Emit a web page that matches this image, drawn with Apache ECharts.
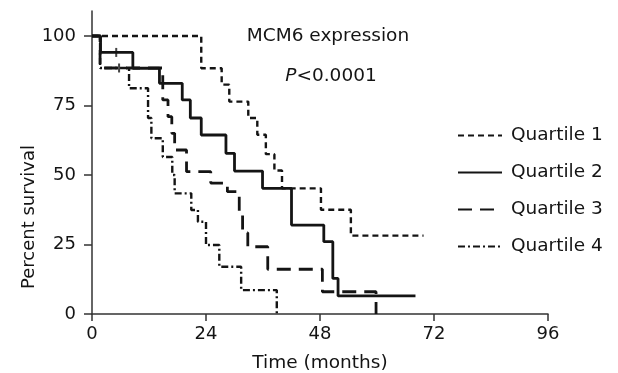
<!DOCTYPE html>
<html>
<head>
<meta charset="utf-8">
<script src="https://cdn.jsdelivr.net/npm/echarts@6/dist/echarts.min.js"></script>
<style>html,body{margin:0;padding:0;background:#fff;}#c{width:618px;height:373px;}</style>
</head>
<body>
<div id="c"></div>
<script>
// Kaplan-Meier steps (time in months, percent survival)
var q1Time = [0, 23.0, 27.3, 28.9, 32.9, 34.8, 36.6, 38.4, 40.0, 48.2, 54.5, 69.8];
var q1Surv = [100, 88.4, 82.5, 76.4, 70.5, 64.5, 57.5, 51.6, 45.2, 37.5, 28.2, 28.2];

var q2Time = [0, 1.8, 8.6, 14.2, 19.0, 20.7, 23.0, 28.2, 30.0, 35.9, 42.0, 48.8, 50.7, 51.8, 68.1];
var q2Surv = [100, 94.1, 88.4, 83.0, 77.0, 70.5, 64.4, 57.8, 51.4, 45.2, 32.0, 26.0, 12.8, 6.5, 6.5];

var q3Time = [0, 1.7, 14.9, 16.0, 16.8, 17.4, 19.9, 25.0, 28.5, 31.0, 31.7, 32.8, 37.0, 48.5, 59.8];
var q3Surv = [100, 88.5, 77.0, 71.0, 65.0, 59.0, 51.2, 47.1, 44.0, 36.5, 29.2, 24.2, 16.1, 8.0, 0];

var q4Time = [0, 1.7, 7.8, 11.8, 12.5, 14.9, 16.9, 17.4, 20.9, 22.3, 24.0, 26.8, 31.4, 38.9];
var q4Surv = [100, 88.5, 81.2, 70.5, 63.2, 56.5, 50.0, 43.4, 37.4, 33.2, 24.8, 17.0, 8.6, 0];

var censorTime = [5.1, 5.7];
var censorSurv = [94.1, 88.5];

var seriesNames = ['Quartile 1', 'Quartile 2', 'Quartile 3', 'Quartile 4'];
var xTicks = [0, 24, 48, 72, 96];
var yTicks = [0, 25, 50, 75, 100];

function pairs(t, v) { return t.map(function (x, i) { return [x, v[i]]; }); }

var FONT = 'DejaVu Sans';
var INK = '#141414';

var chart = echarts.init(document.getElementById('c'), null, { renderer: 'canvas' });
var dashes = [[6, 4], 'solid', [14, 8], [7, 3, 2, 3]];
var datas = [pairs(q1Time, q1Surv), pairs(q2Time, q2Surv), pairs(q3Time, q3Surv), pairs(q4Time, q4Surv)];
var widths = [2.4, 2.8, 2.8, 2.4];

var series = seriesNames.map(function (n, i) {
  return {
    name: n, type: 'line', step: 'end', data: datas[i], symbol: 'none',
    lineStyle: { color: INK, width: widths[i], type: dashes[i] },
    itemStyle: { color: INK },
    z: 3 - i
  };
});
series.push({
  name: 'censored', type: 'scatter', data: pairs(censorTime, censorSurv),
  symbol: 'rect', symbolSize: [2, 9], itemStyle: { color: INK }, z: 5
});

chart.setOption({
  animation: false,
  backgroundColor: '#fff',
  grid: { left: 92, right: 70, top: 11, bottom: 59, containLabel: false, outerBoundsMode: 'none' },
  xAxis: {
    type: 'value', min: 0, max: 96, interval: 24,
    axisLine: { lineStyle: { color: '#333', width: 1.5 } },
    axisTick: { show: true, inside: false, length: 7, lineStyle: { color: '#333', width: 1.5 }, customValues: xTicks },
    axisLabel: { fontFamily: FONT, fontSize: 18, color: INK, margin: 11, customValues: xTicks },
    splitLine: { show: false },
    name: 'Time (months)', nameLocation: 'middle', nameGap: 40,
    nameTextStyle: { fontFamily: FONT, fontSize: 18.5, color: INK }
  },
  yAxis: {
    type: 'value', min: 0, max: 109, interval: 25,
    axisLine: { show: true, lineStyle: { color: '#333', width: 1.5 } },
    axisTick: { show: true, inside: false, length: 8, lineStyle: { color: '#333', width: 1.5 }, customValues: yTicks },
    axisLabel: { fontFamily: FONT, fontSize: 18, color: INK, margin: 16, customValues: yTicks },
    splitLine: { show: false }
  },
  legend: {
    data: seriesNames, orient: 'vertical', left: 457, top: 126, padding: 0,
    itemWidth: 44, itemHeight: 18, itemGap: 18,
    itemStyle: { opacity: 0 },
    textStyle: { fontFamily: FONT, fontSize: 18.5, color: INK, padding: [0, 0, 0, 4] },
    selectedMode: false
  },
  graphic: [
    { type: 'text', x: 29, y: 217, rotation: Math.PI / 2,
      style: { text: 'Percent survival', fontFamily: FONT, fontSize: 18, fill: INK, align: 'center', verticalAlign: 'middle' } },
    { type: 'text', x: 328, y: 36,
      style: { text: 'MCM6 expression', fontFamily: FONT, fontSize: 18.5, fill: INK, align: 'center', verticalAlign: 'middle' } },
    { type: 'text', x: 331, y: 76,
      style: { text: '{i|P}<0.0001', fontFamily: FONT, fontSize: 18.5, fill: INK, align: 'center', verticalAlign: 'middle',
        rich: { i: { fontFamily: FONT, fontSize: 18.5, fontStyle: 'italic', fill: INK } } } }
  ],
  series: series
});
</script>
</body>
</html>
